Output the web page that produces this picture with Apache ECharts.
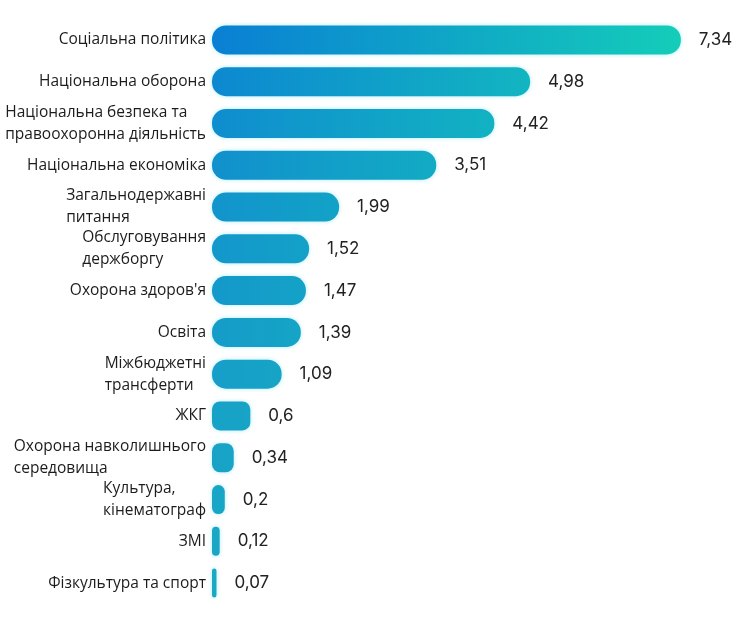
<!DOCTYPE html>
<html>
<head>
<meta charset="utf-8">
<script src="https://cdn.jsdelivr.net/npm/echarts@6/dist/echarts.min.js"></script>
<style>html,body{margin:0;padding:0;background:#fff}#c{width:750px;height:630px}</style>
</head>
<body>
<div id="c"></div>
<script>
const categories = [
  'Соціальна політика',
  'Національна оборона',
  'Національна безпека та\nправоохоронна діяльність',
  'Національна економіка',
  'Загальнодержавні\nпитання',
  'Обслуговування\nдержборгу',
  "Охорона здоров'я",
  'Освіта',
  'Міжбюджетні\nтрансферти',
  'ЖКГ',
  'Охорона навколишнього\nсередовища',
  'Культура,\nкінематограф',
  'ЗМІ',
  'Фізкультура та спорт'
];
const values = [7.34, 4.98, 4.42, 3.51, 1.99, 1.52, 1.47, 1.39, 1.09, 0.6, 0.34, 0.2, 0.12, 0.07];
const valueLabels = ['7,34','4,98','4,42','3,51','1,99','1,52','1,47','1,39','1,09','0,6','0,34','0,2','0,12','0,07'];

function hex(c){return [parseInt(c.slice(1,3),16),parseInt(c.slice(3,5),16),parseInt(c.slice(5,7),16)];}
function mixArr(A,B,t){return A.map((v,i)=>Math.round(v+(B[i]-v)*t));}
function rgb(a){return 'rgb('+a.join(',')+')';}
const leftTop=hex('#0a7fd4'), leftBottom=hex('#1aa9c4'), rightEnd=hex('#14cdb9');
const maxV = Math.max.apply(null, values);
const n = values.length;
const data = values.map((v,i)=>{
  const lc = mixArr(leftTop,leftBottom,Math.pow(i/(n-1),0.6));
  const rc = mixArr(lc, rightEnd, Math.pow(v/maxV,1.1));
  return {value:v, itemStyle:{
    borderRadius: v < 1 ? 8 : 14,
    color:new echarts.graphic.LinearGradient(0,0,1,0,[{offset:0,color:rgb(lc)},{offset:1,color:rgb(rc)}])}};
});

const chart = echarts.init(document.getElementById('c'));
chart.setOption({
  animation:false,
  grid:{left:212,right:27,top:19,bottom:26,containLabel:false,outerBoundsMode:'none'},
  xAxis:{type:'value',min:0,max:8,show:false},
  yAxis:{type:'category',inverse:true,data:categories,
    axisLine:{show:false},axisTick:{show:false},
    axisLabel:{margin:6,align:'right',color:'#1c1c1c',fontFamily:'Open Sans',fontSize:15.5,
      formatter:function(s){return s.split('\n').map(l=>'{a|'+l+'}').join('\n');},
      rich:{a:{align:'left',fontFamily:'Open Sans',fontSize:15.5,color:'#1c1c1c',lineHeight:22}}}},
  series:[{type:'bar',data:data,barWidth:29,
    itemStyle:{shadowBlur:4,shadowColor:'rgba(120,220,240,0.6)'},
    label:{show:true,position:'right',distance:18,fontFamily:'Inter',fontSize:17,color:'#222',
      formatter:function(p){return valueLabels[p.dataIndex];}}}]
});
</script>
</body>
</html>
